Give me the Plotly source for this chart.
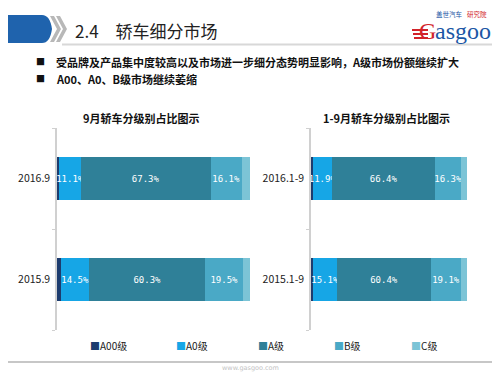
import plotly.graph_objects as go

# page is shown with an 8px body margin, so the figure is 492x367 and
# all layout positions below are given in window pixels and converted.
OFF = 8
W, H = 500 - OFF, 375 - OFF

series = ["A00级", "A0级", "A级", "B级", "C级"]
colors = ["#1d3c6e", "#16a6e6", "#2f8098", "#4aa9c6", "#7cc4d6"]

cats_left = ["2015.9", "2016.9"]
cats_right = ["2015.1-9", "2016.1-9"]

left_vals = {
    "A00级": [2.1, 1.2],
    "A0级": [14.5, 11.1],
    "A级": [60.3, 67.3],
    "B级": [19.5, 16.1],
    "C级": [3.6, 4.3],
}
right_vals = {
    "A00级": [1.5, 1.5],
    "A0级": [15.1, 11.9],
    "A级": [60.4, 66.4],
    "B级": [19.1, 16.3],
    "C级": [3.9, 3.9],
}
labelled = ["A0级", "A级", "B级"]

title_left = "9月轿车分级别占比图示"
title_right = "1-9月轿车分级别占比图示"
page_title = "2.4　轿车细分市场"
bullets = ["受品牌及产品集中度较高以及市场进一步细分态势明显影响，A级市场份额继续扩大",
           "A00、A0、B级市场继续萎缩"]

FONT = "Noto Sans CJK SC"

def px(x):
    return (x - OFF) / W

def py(y):
    return 1 - (y - OFF) / H

fig = go.Figure()

for name, col in zip(series, colors):
    for vals, cats, xa, ya in [(left_vals, cats_left, "x", "y"), (right_vals, cats_right, "x2", "y2")]:
        v = vals[name]
        txt = [f"{a:.1f}%" for a in v] if name in labelled else ["" for _ in v]
        fig.add_trace(go.Bar(
            x=v, y=cats, orientation="h", name=name, marker=dict(color=col, line=dict(width=0)),
            text=txt, textposition="inside", insidetextanchor="middle", textangle=0,
            constraintext="none",
            textfont=dict(color="white", size=9, family="DejaVu Sans Mono"),
            width=0.43, xaxis=xa, yaxis=ya, showlegend=False, hoverinfo="skip",
        ))

ydom = [py(330), py(128)]
axis_common = dict(range=[0, 100], showgrid=False, zeroline=False, showticklabels=False,
                   showline=False, ticks="", fixedrange=True)
yaxis_common = dict(type="category", range=[-0.5, 1.5], showgrid=False, zeroline=False,
                    showline=True, linecolor="#d0d0d0", linewidth=1.5,
                    ticks="outside", ticklen=3, tickcolor="#d0d0d0", tickson="boundaries",
                    tickfont=dict(size=10.5, color="#222", family=FONT),
                    ticklabelstandoff=3, automargin=False)

fig.update_layout(
    width=W, height=H, margin=dict(l=0, r=0, t=0, b=0),
    paper_bgcolor="white", plot_bgcolor="white", barmode="stack",
    bargap=0.57, showlegend=False,
    xaxis=dict(domain=[px(57), px(250)], anchor="y", **axis_common),
    yaxis=dict(domain=ydom, anchor="x", **yaxis_common),
    xaxis2=dict(domain=[px(311), px(467)], anchor="y2", **axis_common),
    yaxis2=dict(domain=ydom, anchor="x2", **yaxis_common),
    font=dict(family=FONT),
)

shapes = []
ann = []

# header band
shapes.append(dict(type="path", xref="paper", yref="paper",
                   path=f"M {px(0)},{py(15)} L {px(42)},{py(15)} Q {px(50)},{py(15)} {px(52)},{py(29)} Q {px(50)},{py(43)} {px(42)},{py(43)} L {px(0)},{py(43)} Z",
                   fillcolor="#1f63ad", line=dict(width=0)))
for off in [0, 6]:
    shapes.append(dict(type="path", xref="paper", yref="paper",
                       path=f"M {px(50+off)},{py(16)} L {px(54+off)},{py(16)} L {px(61+off)},{py(29)} L {px(54+off)},{py(42)} L {px(50+off)},{py(42)} L {px(57+off)},{py(29)} Z",
                       fillcolor="#b8b8b8", line=dict(width=0)))
shapes.append(dict(type="line", xref="paper", yref="paper", x0=px(62), x1=1, y0=py(44.5), y1=py(44.5),
                   line=dict(color="#d8d8d8", width=2)))
# footer line
shapes.append(dict(type="line", xref="paper", yref="paper", x0=px(0), x1=1, y0=py(362), y1=py(362),
                   line=dict(color="#b5b5b5", width=1.5)))
# logo stripes
for i, yy in enumerate([30, 34, 38]):
    shapes.append(dict(type="line", xref="paper", yref="paper", x0=px(412 + i), x1=px(428), y0=py(yy), y1=py(yy),
                       line=dict(color="#d2232a", width=2)))

ann.append(dict(text=page_title, x=px(73), y=py(30), xref="paper", yref="paper",
                xanchor="left", yanchor="middle", showarrow=False,
                font=dict(size=17, color="#222", family=FONT)))
# logo
ann.append(dict(text="G", x=px(417), y=py(31), xref="paper", yref="paper",
                xanchor="left", yanchor="middle", showarrow=False,
                font=dict(size=24, color="#d2232a", family="Liberation Serif")))
ann.append(dict(text="asgoo", x=px(433), y=py(31), xref="paper", yref="paper",
                xanchor="left", yanchor="middle", showarrow=False,
                font=dict(size=24, color="#1c57a5", family="Liberation Serif")))
ann.append(dict(text="盖世汽车", x=px(465), y=py(14), xref="paper", yref="paper",
                xanchor="right", yanchor="middle", showarrow=False,
                font=dict(size=6.5, color="#1c57a5", family=FONT)))
ann.append(dict(text="研究院", x=px(465), y=py(14), xref="paper", yref="paper",
                xanchor="left", yanchor="middle", showarrow=False,
                font=dict(size=6.5, color="#d2232a", family=FONT)))

for i, b in enumerate(bullets):
    y = 62 + 17 * i
    ann.append(dict(text="■", x=px(40), y=py(y), xref="paper", yref="paper",
                    xanchor="center", yanchor="middle", showarrow=False,
                    font=dict(size=9, color="#111", family=FONT)))
    ann.append(dict(text=f"<b>{b}</b>", x=px(54), y=py(y), xref="paper", yref="paper",
                    xanchor="left", yanchor="middle", showarrow=False,
                    font=dict(size=11, color="#111", family=FONT)))

ann.append(dict(text=f"<b>{title_left}</b>", x=px(141), y=py(118), xref="paper", yref="paper",
                xanchor="center", yanchor="middle", showarrow=False,
                font=dict(size=11, color="#111", family=FONT)))
ann.append(dict(text=f"<b>{title_right}</b>", x=px(386), y=py(118), xref="paper", yref="paper",
                xanchor="center", yanchor="middle", showarrow=False,
                font=dict(size=11, color="#111", family=FONT)))

# legend
leg_x = [88, 174, 256, 332, 409]
for name, col, lx in zip(series, colors, leg_x):
    ann.append(dict(text=f"<span style='color:{col}'>■</span>{name}", x=px(lx), y=py(345),
                    xref="paper", yref="paper", xanchor="left", yanchor="middle", showarrow=False,
                    font=dict(size=10, color="#222", family=FONT)))

ann.append(dict(text="www.gasgoo.com", x=px(250), y=py(368), xref="paper", yref="paper",
                xanchor="center", yanchor="middle", showarrow=False,
                font=dict(size=6.5, color="#c4c4c4", family="DejaVu Sans")))

fig.update_layout(shapes=shapes, annotations=ann)
fig.write_html("out.html")
